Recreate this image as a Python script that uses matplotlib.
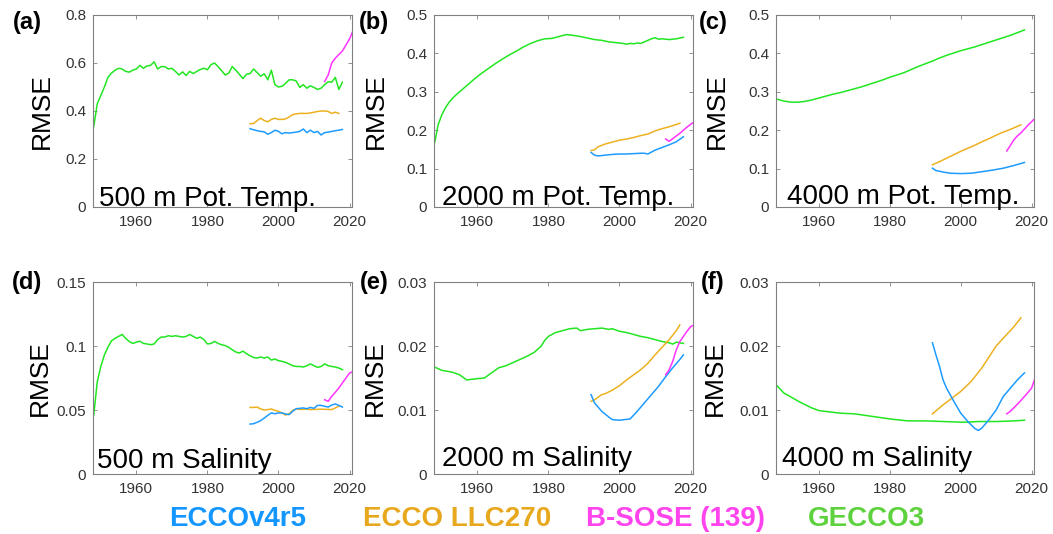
"""
Ocean state estimates: RMSE vs. year at 500/2000/4000 m
potential temperature (top row) and salinity (bottom row).
"""

import numpy as np
import matplotlib
matplotlib.use("Agg")
import matplotlib.pyplot as plt

plt.rcParams["font.family"] = ["Liberation Sans", "DejaVu Sans"]

W, H = 1053, 534

COL_BLUE    = "#1E9BFF"
COL_ORANGE  = "#EDB120"
COL_MAGENTA = "#FF33FF"
COL_GREEN   = "#22E622"

LEGEND_NAMES  = ["ECCOv4r5", "ECCO LLC270", "B-SOSE (139)", "GECCO3"]
LEGEND_COLORS = ["#1496FF", "#E8A81E", "#FF44EE", "#5ED23E"]

XTICKS = [1960, 1980, 2000, 2020]

# ── (a) 500 m Pot. Temp. ─────────────────────────────────────────
A_GREEN = [0.335, 0.43, 0.465, 0.50, 0.54, 0.558, 0.57, 0.578, 0.575, 0.565,
           0.562, 0.57, 0.575, 0.59, 0.578, 0.588, 0.59, 0.605, 0.575, 0.585,
           0.585, 0.575, 0.578, 0.565, 0.55, 0.563, 0.548, 0.565, 0.556, 0.565,
           0.573, 0.578, 0.572, 0.593, 0.60, 0.585, 0.568, 0.55, 0.558, 0.585,
           0.57, 0.553, 0.535, 0.553, 0.556, 0.575, 0.56, 0.545, 0.555, 0.53,
           0.57, 0.51, 0.50, 0.503, 0.515, 0.53, 0.53, 0.525, 0.498, 0.51,
           0.495, 0.505, 0.498, 0.49, 0.495, 0.51, 0.522, 0.52, 0.54, 0.49,
           0.52]                                         # 1948-2018
A_ORANGE = [0.347, 0.348, 0.36, 0.37, 0.36, 0.355, 0.365, 0.37, 0.365, 0.365,
            0.367, 0.375, 0.385, 0.388, 0.39, 0.39, 0.39, 0.392, 0.395, 0.398,
            0.40, 0.40, 0.398, 0.39, 0.395, 0.39]        # 1992-2017
A_BLUE = [0.326, 0.322, 0.318, 0.315, 0.313, 0.303, 0.31, 0.32, 0.315, 0.305,
          0.31, 0.308, 0.31, 0.312, 0.315, 0.325, 0.31, 0.32, 0.31, 0.315,
          0.30, 0.31, 0.312, 0.315, 0.318, 0.32, 0.323]  # 1992-2018
A_MAGENTA = [0.523, 0.55, 0.60, 0.62, 0.635, 0.65, 0.675, 0.70, 0.735]  # 2013-2021

# ── (b) 2000 m Pot. Temp. ────────────────────────────────────────
B_GREEN_YR = [1948, 1949, 1950, 1951, 1952, 1953, 1954, 1955, 1957, 1959,
              1961, 1963, 1965, 1967, 1969, 1971, 1973, 1975, 1977, 1979,
              1981, 1983, 1985, 1987, 1989, 1991, 1993, 1995, 1997, 1999,
              2001, 2002, 2003, 2004, 2005, 2006, 2007, 2008, 2009, 2010,
              2011, 2012, 2014, 2016, 2018]
B_GREEN = [0.168, 0.215, 0.24, 0.258, 0.272, 0.283, 0.292, 0.30, 0.316, 0.332,
           0.347, 0.36, 0.373, 0.385, 0.396, 0.406, 0.417, 0.426, 0.433, 0.438,
           0.439, 0.444, 0.449, 0.447, 0.444, 0.44, 0.436, 0.434, 0.43, 0.428,
           0.426, 0.424, 0.426, 0.425, 0.427, 0.426, 0.43, 0.434, 0.438, 0.441,
           0.437, 0.438, 0.436, 0.438, 0.442]
B_ORANGE_YR = [1992, 1993, 1994, 1996, 1998, 2000, 2002, 2004, 2006, 2008,
               2010, 2012, 2014, 2016, 2017]
B_ORANGE = [0.147, 0.149, 0.157, 0.164, 0.169, 0.174, 0.177, 0.181, 0.186, 0.19,
            0.198, 0.204, 0.209, 0.215, 0.218]
B_BLUE_YR = [1992, 1993, 1994, 1996, 1998, 2000, 2002, 2004, 2006, 2007,
             2008, 2009, 2010, 2012, 2014, 2016, 2018]
B_BLUE = [0.142, 0.135, 0.133, 0.135, 0.137, 0.138, 0.138, 0.139, 0.14, 0.14,
          0.138, 0.143, 0.148, 0.155, 0.162, 0.17, 0.183]
B_MAGENTA = [0.177, 0.171, 0.178, 0.185, 0.192, 0.20, 0.208, 0.215, 0.222]  # 2013-2021

# ── (c) 4000 m Pot. Temp. ────────────────────────────────────────
C_GREEN_YR = list(range(1948, 2019, 2))
C_GREEN = [0.281, 0.276, 0.273, 0.273, 0.275, 0.279, 0.284, 0.289, 0.294, 0.298,
           0.303, 0.308, 0.313, 0.319, 0.325, 0.331, 0.338, 0.344, 0.35, 0.358,
           0.366, 0.373, 0.38, 0.388, 0.395, 0.401, 0.407, 0.412, 0.417, 0.423,
           0.429, 0.435, 0.441, 0.447, 0.454, 0.461]
C_ORANGE_YR = [1992, 1994, 1996, 1998, 2000, 2002, 2004, 2006, 2008, 2010,
               2012, 2014, 2016, 2017]
C_ORANGE = [0.11, 0.118, 0.127, 0.136, 0.145, 0.153, 0.161, 0.17, 0.178, 0.187,
            0.195, 0.202, 0.21, 0.214]
C_BLUE_YR = [1992, 1993, 1995, 1997, 2000, 2003, 2006, 2009, 2012, 2015, 2018]
C_BLUE = [0.101, 0.095, 0.091, 0.088, 0.087, 0.088, 0.092, 0.096, 0.101, 0.108, 0.116]
C_MAGENTA = [0.146, 0.16, 0.175, 0.185, 0.193, 0.203, 0.213, 0.222, 0.231]  # 2013-2021

# ── (d) 500 m Salinity ───────────────────────────────────────────
D_GREEN = [0.046, 0.072, 0.084, 0.093, 0.099, 0.104, 0.106, 0.1075, 0.109, 0.106,
           0.1035, 0.102, 0.103, 0.1037, 0.102, 0.1016, 0.101, 0.1016, 0.105, 0.107,
           0.107, 0.108, 0.1075, 0.108, 0.1075, 0.107, 0.1075, 0.109, 0.1075, 0.106,
           0.107, 0.105, 0.1016, 0.102, 0.1036, 0.102, 0.101, 0.1003, 0.099, 0.097,
           0.0953, 0.0945, 0.096, 0.094, 0.0924, 0.091, 0.0906, 0.0914, 0.0906, 0.0914,
           0.089, 0.0898, 0.0885, 0.088, 0.0872, 0.086, 0.0846, 0.084, 0.084, 0.0836,
           0.0846, 0.086, 0.0846, 0.0833, 0.084, 0.086, 0.0846, 0.084, 0.0836, 0.0828,
           0.0815]                                       # 1948-2018
D_ORANGE = [0.052, 0.052, 0.0523, 0.0508, 0.05, 0.0503, 0.0508, 0.0497, 0.049, 0.0477,
            0.046, 0.047, 0.0497, 0.0508, 0.0505, 0.0505, 0.0507, 0.0503, 0.0505, 0.0505,
            0.0507, 0.0505, 0.0505, 0.0503, 0.0516, 0.053]  # 1992-2017
D_BLUE = [0.039, 0.0393, 0.0404, 0.0417, 0.0437, 0.0458, 0.0477, 0.0471, 0.0477, 0.0477,
          0.0469, 0.0464, 0.049, 0.051, 0.0513, 0.0516, 0.051, 0.052, 0.0513, 0.0536,
          0.0536, 0.0529, 0.0523, 0.0539, 0.0547, 0.0536, 0.0523]  # 1992-2018
D_MAGENTA = [0.058, 0.0568, 0.0607, 0.0638, 0.0672, 0.0711, 0.075, 0.0789, 0.080]  # 2013-2021

# ── (e) 2000 m Salinity ──────────────────────────────────────────
E_GREEN_YR = [1948, 1950, 1953, 1955, 1957, 1960, 1962, 1964, 1966, 1968,
              1970, 1972, 1974, 1976, 1978, 1979, 1980, 1982, 1984, 1986, 1988,
              1989, 1991, 1993, 1995, 1997, 1998, 2000, 2002, 2004, 2006,
              2008, 2010, 2012, 2014, 2015, 2016, 2017, 2018]
E_GREEN = [0.0167, 0.0162, 0.0159, 0.0155, 0.0147, 0.0149, 0.015, 0.0158, 0.0166, 0.0169,
           0.0174, 0.0179, 0.0184, 0.0190, 0.0200, 0.0209, 0.0215, 0.0221, 0.0224, 0.0227, 0.0228,
           0.0224, 0.0226, 0.0227, 0.0228, 0.0226, 0.0227, 0.0223, 0.0221, 0.0218, 0.0215,
           0.0213, 0.021, 0.0207, 0.0205, 0.0203, 0.0206, 0.0205, 0.0204]
E_ORANGE_YR = [1992, 1993, 1995, 1996, 1998, 2000, 2002, 2004, 2006, 2008,
               2010, 2012, 2014, 2016, 2017]
E_ORANGE = [0.01135, 0.0116, 0.0124, 0.01255, 0.0131, 0.0138, 0.0147, 0.0155, 0.0163, 0.0173,
            0.0186, 0.0198, 0.021, 0.0224, 0.0233]
E_BLUE_YR = [1992, 1993, 1995, 1997, 1998, 2000, 2003, 2005, 2007, 2009,
             2011, 2013, 2015, 2017, 2018]
E_BLUE = [0.0124, 0.0111, 0.0098, 0.0089, 0.0085, 0.0084, 0.0086, 0.0098, 0.0111, 0.0124,
          0.0137, 0.0152, 0.0166, 0.0179, 0.0186]
E_MAGENTA = [0.0155, 0.0163, 0.0176, 0.0194, 0.0207, 0.0215, 0.0223, 0.023, 0.0233]  # 2013-2021

# ── (f) 4000 m Salinity ──────────────────────────────────────────
F_GREEN_YR = [1948, 1950, 1955, 1958, 1960, 1963, 1966, 1970, 1975, 1980,
              1985, 1990, 1995, 2000, 2002, 2005, 2010, 2015, 2018]
F_GREEN = [0.01385, 0.01266, 0.0111, 0.0103, 0.0099, 0.0097, 0.0095, 0.0094, 0.009, 0.0086,
           0.0083, 0.0083, 0.0082, 0.0081, 0.0081, 0.0082, 0.0082, 0.0083, 0.0084]
F_ORANGE_YR = [1992, 1995, 2000, 2003, 2006, 2010, 2013, 2015, 2017]
F_ORANGE = [0.0094, 0.0108, 0.0129, 0.0145, 0.0166, 0.020, 0.0218, 0.023, 0.0244]
F_BLUE_YR = [1992, 1993, 1994, 1995, 1996, 1998, 2000, 2002, 2004, 2005,
             2006, 2008, 2010, 2012, 2014, 2016, 2018]
F_BLUE = [0.0205, 0.0186, 0.0168, 0.0147, 0.0134, 0.0114, 0.0095, 0.0082, 0.0071, 0.0068,
          0.0072, 0.0085, 0.010, 0.0121, 0.0134, 0.0147, 0.0158]
F_MAGENTA_YR = [2013, 2014, 2016, 2018, 2020, 2021]
F_MAGENTA = [0.0094, 0.0098, 0.0109, 0.0121, 0.0134, 0.015]


def yearly(start, vals):
    return np.arange(start, start + len(vals)), vals


PANELS = [
    dict(box=(93, 15, 352, 207), tag="(a)", tag_xy=(27, 22), ylab_off=51,
         text="500 m Pot. Temp.", text_xy=(0.023, 0.004),
         yticks=[0, 0.2, 0.4, 0.6, 0.8], ylabels=["0", "0.2", "0.4", "0.6", "0.8"],
         series=[(*yearly(1948, A_GREEN), COL_GREEN), (*yearly(1992, A_ORANGE), COL_ORANGE),
                 (*yearly(1992, A_BLUE), COL_BLUE), (*yearly(2013, A_MAGENTA), COL_MAGENTA)]),
    dict(box=(434, 15, 693, 207), tag="(b)", tag_xy=(374, 22), ylab_off=58,
         text="2000 m Pot. Temp.", text_xy=(0.03, 0.01),
         yticks=[0, 0.1, 0.2, 0.3, 0.4, 0.5],
         ylabels=["0", "0.1", "0.2", "0.3", "0.4", "0.5"],
         series=[(B_GREEN_YR, B_GREEN, COL_GREEN), (B_ORANGE_YR, B_ORANGE, COL_ORANGE),
                 (B_BLUE_YR, B_BLUE, COL_BLUE), (*yearly(2013, B_MAGENTA), COL_MAGENTA)]),
    dict(box=(776, 15, 1034, 207), tag="(c)", tag_xy=(713, 22), ylab_off=59,
         text="4000 m Pot. Temp.", text_xy=(0.041, 0.016),
         yticks=[0, 0.1, 0.2, 0.3, 0.4, 0.5],
         ylabels=["0", "0.1", "0.2", "0.3", "0.4", "0.5"],
         series=[(C_GREEN_YR, C_GREEN, COL_GREEN), (C_ORANGE_YR, C_ORANGE, COL_ORANGE),
                 (C_BLUE_YR, C_BLUE, COL_BLUE), (*yearly(2013, C_MAGENTA), COL_MAGENTA)]),
    dict(box=(93, 282, 352, 474), tag="(d)", tag_xy=(27, 283), ylab_off=53,
         text="500 m Salinity", text_xy=(0.014, 0.031),
         yticks=[0, 0.05, 0.1, 0.15], ylabels=["0", "0.05", "0.1", "0.15"],
         series=[(*yearly(1948, D_GREEN), COL_GREEN), (*yearly(1992, D_ORANGE), COL_ORANGE),
                 (*yearly(1992, D_BLUE), COL_BLUE), (*yearly(2013, D_MAGENTA), COL_MAGENTA)]),
    dict(box=(434, 282, 693, 474), tag="(e)", tag_xy=(374, 283), ylab_off=59,
         text="2000 m Salinity", text_xy=(0.03, 0.04),
         yticks=[0, 0.01, 0.02, 0.03], ylabels=["0", "0.01", "0.02", "0.03"],
         series=[(E_GREEN_YR, E_GREEN, COL_GREEN), (E_ORANGE_YR, E_ORANGE, COL_ORANGE),
                 (E_BLUE_YR, E_BLUE, COL_BLUE), (*yearly(2013, E_MAGENTA), COL_MAGENTA)]),
    dict(box=(776, 282, 1034, 474), tag="(f)", tag_xy=(713, 283), ylab_off=61,
         text="4000 m Salinity", text_xy=(0.022, 0.04),
         yticks=[0, 0.01, 0.02, 0.03], ylabels=["0", "0.01", "0.02", "0.03"],
         series=[(F_GREEN_YR, F_GREEN, COL_GREEN), (F_ORANGE_YR, F_ORANGE, COL_ORANGE),
                 (F_BLUE_YR, F_BLUE, COL_BLUE), (F_MAGENTA_YR, F_MAGENTA, COL_MAGENTA)]),
]


def px_box(l, t, r, b):
    return [l / W, 1 - b / H, (r - l) / W, (b - t) / H]


fig = plt.figure(figsize=(W / 100, H / 100), dpi=100)

for p in PANELS:
    l, t, r, b = p["box"]
    ax = fig.add_axes(px_box(l, t, r, b))
    for x, y, c in p["series"]:
        ax.plot(x, y, color=c, lw=1.1, solid_joinstyle="round")
    ax.set_xlim(1947.8, 2020.7)
    ax.set_ylim(p["yticks"][0], p["yticks"][-1])
    ax.set_xticks(XTICKS)
    ax.set_xticklabels([str(v) for v in XTICKS])
    ax.set_yticks(p["yticks"])
    ax.set_yticklabels(p["ylabels"])
    ax.tick_params(direction="in", length=3, width=0.6, color="#808080",
                   labelsize=11, labelcolor="#333333", top=True, right=True)
    ax.tick_params(axis="x", pad=6)
    ax.tick_params(axis="y", pad=5)
    for s in ax.spines.values():
        s.set_color("#808080")
        s.set_linewidth(0.8)
    ax.set_ylabel("RMSE", fontsize=19, va="center")
    ax.yaxis.set_label_coords(-p["ylab_off"] / (r - l), 0.5)
    ax.text(*p["text_xy"], p["text"], transform=ax.transAxes, fontsize=20,
            ha="left", va="baseline", color="black")
    tx, ty = p["tag_xy"]
    fig.text(tx / W, 1 - ty / H, p["tag"], fontsize=17, fontweight="bold",
             ha="center", va="center")

# legend as coloured words along the bottom
LEG_X = [238, 457, 676, 866]
for name, col, x in zip(LEGEND_NAMES, LEGEND_COLORS, LEG_X):
    fig.text(x / W, 1 - 519 / H, name, color=col, fontsize=20,
             fontweight="bold", ha="center", va="center")

fig.savefig("out.png", dpi=100)
